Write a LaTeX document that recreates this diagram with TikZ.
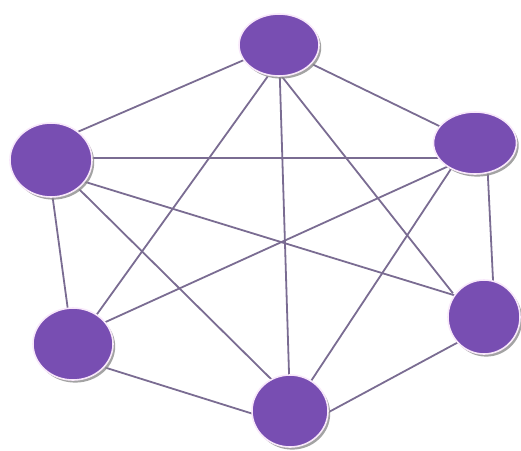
\documentclass[tikz,border=0pt]{standalone}
\usetikzlibrary{shapes.geometric,shadows,backgrounds,calc}
\definecolor{nodepurple}{RGB}{120,78,178}
\definecolor{edgegray}{RGB}{122,108,146}
\definecolor{rimcol}{RGB}{248,232,250}
\tikzset{
  vnode/.style={ellipse, inner sep=0pt, fill=nodepurple, draw=rimcol, line width=1.6pt,
    drop shadow={shadow xshift=2.2pt, shadow yshift=-2.6pt, fill=black!45, opacity=0.8}},
  link/.style={draw=edgegray, line width=1.8pt, shorten <=-8pt, shorten >=-8pt}
}
\begin{document}
\begin{tikzpicture}[x=1pt,y=-1pt]
\useasboundingbox (0,0) rectangle (521,450);
\node[vnode, minimum width=80pt, minimum height=62pt] (t)  at (279,45) {};
\node[vnode, minimum width=82pt, minimum height=74pt] (ul) at (51,160) {};
\node[vnode, minimum width=83pt, minimum height=62pt] (ur) at (475,143) {};
\node[vnode, minimum width=80pt, minimum height=72pt] (ll) at (73,344) {};
\node[vnode, minimum width=72pt, minimum height=74pt] (lr) at (484,317) {};
\node[vnode, minimum width=76pt, minimum height=72pt] (b)  at (290,411) {};
\begin{scope}[on background layer]
\foreach \a/\ax/\ay/\c/\cx/\cy in {
  t/-42/18/ul/31/-30,
  t/41/23/ur/-42/-20,
  t/-16/38/ll/27/-34,
  t/1/38/b/-1/-38,
  t/8/38/lr/-36/-30,
  ul/41/-2/ur/-42/15,
  ul/2/40/ll/-6/-41,
  ul/41/24/lr/-37/-24,
  ul/34/35/b/-23/-36,
  ur/-35/27/ll/37/-24,
  ur/13/35/lr/9/-37,
  ur/-28/32/b/25/-36,
  ll/40/26/b/-43/1,
  lr/-31/28/b/37/2}
  \draw[link] ($(\a.center)+(\ax,\ay)$) -- ($(\c.center)+(\cx,\cy)$);
\end{scope}
\end{tikzpicture}
\end{document}
